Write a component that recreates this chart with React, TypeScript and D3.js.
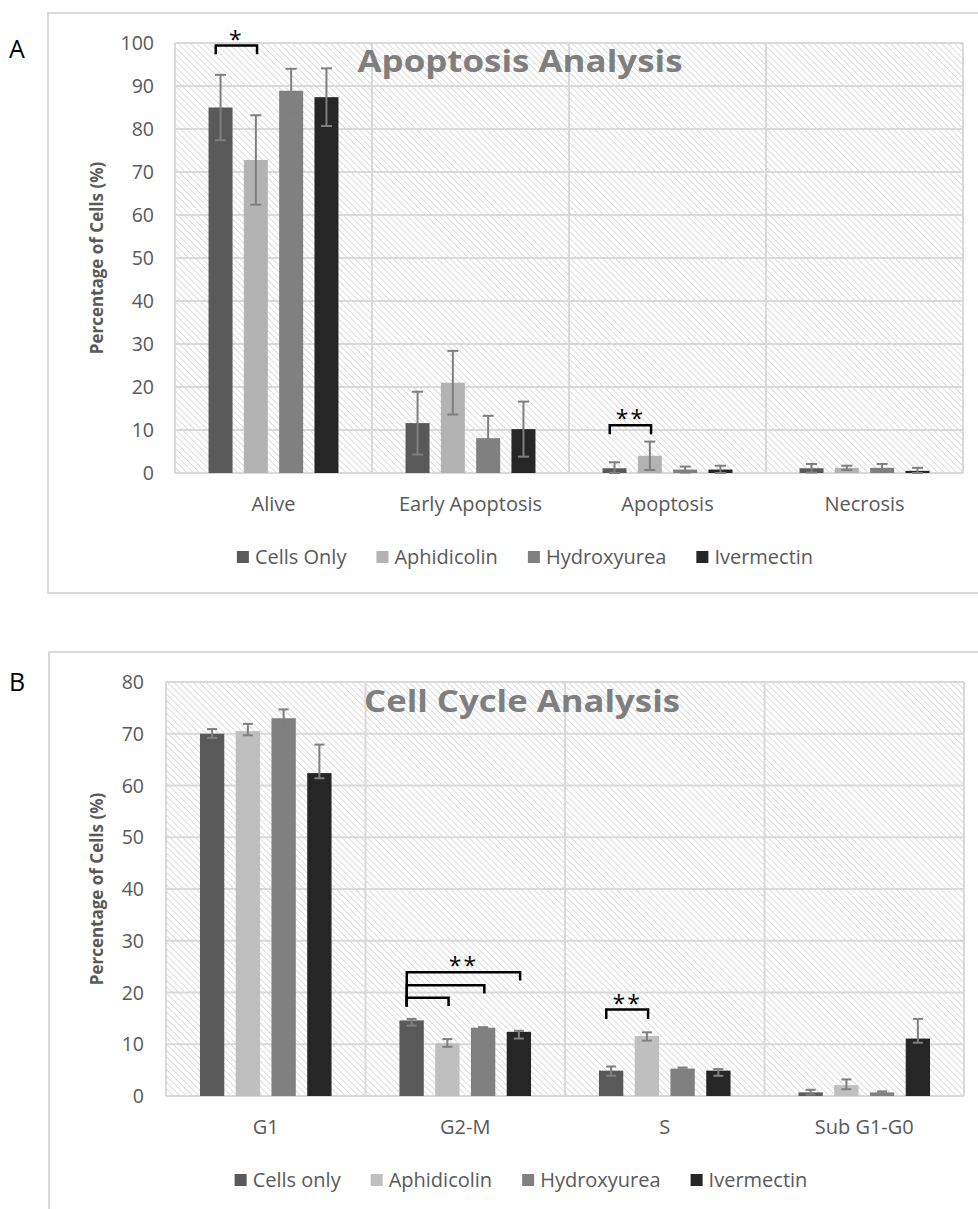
import * as d3 from 'd3';
import { useEffect, useRef } from 'react';

// Panel A - apoptosis
const apoptosisCategories = ['Alive', 'Early Apoptosis', 'Apoptosis', 'Necrosis'];
const apoptosisSeries = ['Cells Only', 'Aphidicolin', 'Hydroxyurea', 'Ivermectin'];
const apoCellsOnly = [85.0, 11.6, 1.1, 1.1];
const apoAphidicolin = [72.8, 21.0, 4.0, 1.2];
const apoHydroxyurea = [88.9, 8.1, 0.8, 1.2];
const apoIvermectin = [87.4, 10.2, 0.8, 0.5];
const apoCellsOnlyErr = [7.6, 7.3, 1.4, 1.0];
const apoAphidicolinErr = [10.4, 7.4, 3.3, 0.5];
const apoHydroxyureaErr = [5.1, 5.2, 0.7, 0.9];
const apoIvermectinErr = [6.7, 6.4, 0.9, 0.7];
const apoYTicks = [0, 10, 20, 30, 40, 50, 60, 70, 80, 90, 100];

// Panel B - cell cycle
const cycleCategories = ['G1', 'G2-M', 'S', 'Sub G1-G0'];
const cycleSeries = ['Cells only', 'Aphidicolin', 'Hydroxyurea', 'Ivermectin'];
const cycCellsOnly = [70.0, 14.6, 4.9, 0.7];
const cycAphidicolin = [70.5, 10.2, 11.6, 2.1];
const cycHydroxyurea = [73.0, 13.2, 5.3, 0.7];
const cycIvermectin = [62.4, 12.4, 4.9, 11.1];
const cycCellsOnlyPlus = [0.9, 0.3, 0.8, 0.5];
const cycCellsOnlyMinus = [0.8, 1.0, 1.0, 0.4];
const cycAphidicolinPlus = [1.4, 0.8, 0.7, 1.1];
const cycAphidicolinMinus = [0.8, 0.7, 0.9, 0.8];
const cycHydroxyureaPlus = [1.7, 0.1, 0.2, 0.2];
const cycHydroxyureaMinus = [1.7, 0.1, 0.2, 0.2];
const cycIvermectinPlus = [5.5, 0.2, 0.3, 3.8];
const cycIvermectinMinus = [1.0, 1.3, 1.0, 0.8];
const cycYTicks = [0, 10, 20, 30, 40, 50, 60, 70, 80];

// significance brackets: series index from/to, heights in data units
const apoBrackets = [
  { category: 'Alive', from: 0, to: 1, top: 99.4, leftEnd: 97.4, rightEnd: 97.4, label: '*' },
  { category: 'Apoptosis', from: 0, to: 1, top: 11.1, leftEnd: 9.0, rightEnd: 9.0, label: '**' },
];
const cycBrackets = [
  { category: 'G2-M', from: 0, to: 3, top: 23.9, leftEnd: 17.3, rightEnd: 22.3, label: '**' },
  { category: 'G2-M', from: 0, to: 2, top: 21.4, leftEnd: 17.3, rightEnd: 19.8, label: '' },
  { category: 'G2-M', from: 0, to: 1, top: 19.0, leftEnd: 17.3, rightEnd: 17.4, label: '' },
  { category: 'S', from: 0, to: 1, top: 16.7, leftEnd: 14.9, rightEnd: 14.9, label: '**' },
];

const apoColors = ['#595959', '#b3b3b3', '#808080', '#262626'];
const cycColors = ['#595959', '#bfbfbf', '#808080', '#262626'];

const FONT = '"Open Sans", "DejaVu Sans", sans-serif';
const GRID = '#d9d9d9';

function drawPanel(root: any, p: any) {
  const g = root.append('g');

  g.append('rect')
    .attr('x', p.frame.x).attr('y', p.frame.y)
    .attr('width', p.frame.w).attr('height', p.frame.h)
    .attr('fill', 'white').attr('stroke', GRID).attr('stroke-width', 2);

  g.append('text')
    .attr('x', 9).attr('y', p.letterY)
    .attr('font-family', FONT).attr('font-size', 25).attr('fill', '#000')
    .text(p.letter);

  const x0 = d3.scaleBand().domain(p.categories).range([p.plot.left, p.plot.right]);
  const x1 = d3.scaleBand().domain(d3.range(p.series.length) as any)
    .range([0, x0.bandwidth()]).paddingInner(0.32).paddingOuter(0.95);
  const y = d3.scaleLinear().domain([0, p.yMax]).range([p.plot.bottom, p.plot.top]);

  // plot background with hatch
  g.append('rect')
    .attr('x', p.plot.left).attr('y', p.plot.top)
    .attr('width', p.plot.right - p.plot.left).attr('height', p.plot.bottom - p.plot.top)
    .attr('fill', 'url(#hatch)');

  // gridlines
  g.append('g').selectAll('line').data(p.yTicks).enter().append('line')
    .attr('x1', p.plot.left).attr('x2', p.plot.right)
    .attr('y1', (d: number) => y(d)).attr('y2', (d: number) => y(d))
    .attr('stroke', GRID).attr('stroke-width', 2);
  const bounds = p.categories.map((c: string) => x0(c)).concat([p.plot.right]);
  g.append('g').selectAll('line').data(bounds).enter().append('line')
    .attr('x1', (d: number) => d).attr('x2', (d: number) => d)
    .attr('y1', p.plot.top).attr('y2', p.plot.bottom)
    .attr('stroke', GRID).attr('stroke-width', 2);

  // title
  g.append('text')
    .attr('x', p.titleX).attr('y', p.titleY)
    .attr('text-anchor', 'middle')
    .attr('font-family', FONT).attr('font-weight', 700).attr('font-size', 31)
    .attr('fill', '#7f7f7f')
    .attr('textLength', p.titleW).attr('lengthAdjust', 'spacingAndGlyphs')
    .text(p.title);

  // bars
  p.series.forEach((s: any, i: number) => {
    const sg = g.append('g');
    sg.selectAll('rect').data(s.values).enter().append('rect')
      .attr('x', (_d: number, j: number) => (x0(p.categories[j]) as number) + (x1(i as any) as number))
      .attr('y', (d: number) => y(d))
      .attr('width', x1.bandwidth())
      .attr('height', (d: number) => y(0) - y(d))
      .attr('fill', s.color);
  });

  // error bars
  const cap = p.capW / 2;
  p.series.forEach((s: any, i: number) => {
    const eg = g.append('g').attr('stroke', '#7f7f7f').attr('stroke-width', 2);
    s.values.forEach((v: number, j: number) => {
      const cx = (x0(p.categories[j]) as number) + (x1(i as any) as number) + x1.bandwidth() / 2;
      const hi = y(v + s.plus[j]);
      const lo = y(Math.max(0, v - s.minus[j]));
      eg.append('line').attr('x1', cx).attr('x2', cx).attr('y1', hi).attr('y2', lo);
      eg.append('line').attr('x1', cx - cap).attr('x2', cx + cap).attr('y1', hi).attr('y2', hi);
      eg.append('line').attr('x1', cx - cap).attr('x2', cx + cap).attr('y1', lo).attr('y2', lo);
    });
  });

  // significance brackets
  p.brackets.forEach((b: any) => {
    const base = x0(b.category) as number;
    const xl = base + (x1(b.from as any) as number) + x1.bandwidth() * 0.3;
    const xr = base + (x1(b.to as any) as number) + x1.bandwidth() * 0.55;
    g.append('path')
      .attr('d', `M${xl},${y(b.leftEnd)}V${y(b.top)}H${xr}V${y(b.rightEnd)}`)
      .attr('fill', 'none').attr('stroke', '#000').attr('stroke-width', 2.5);
    if (b.label) {
      g.append('text')
        .attr('x', (xl + xr) / 2).attr('y', y(b.top) + 2)
        .attr('text-anchor', 'middle')
        .attr('font-family', FONT).attr('font-size', 23).attr('fill', '#000')
        .attr('letter-spacing', 2)
        .text(b.label);
    }
  });

  // y tick labels
  g.append('g').selectAll('text').data(p.yTicks).enter().append('text')
    .attr('x', p.tickX).attr('y', (d: number) => y(d)).attr('dy', '0.36em')
    .attr('text-anchor', 'end')
    .attr('font-family', FONT).attr('font-size', 19.5).attr('fill', '#595959')
    .text((d: number) => d);

  // y axis title
  const cy = (p.plot.top + p.plot.bottom) / 2;
  g.append('text')
    .attr('transform', `translate(${p.yTitleX},${cy}) rotate(-90)`)
    .attr('dy', '0.36em')
    .attr('text-anchor', 'middle')
    .attr('font-family', FONT).attr('font-weight', 700).attr('font-size', 17)
    .attr('fill', '#595959')
    .text('Percentage of Cells (%)');

  // category labels
  g.append('g').selectAll('text').data(p.categories).enter().append('text')
    .attr('x', (d: string) => (x0(d) as number) + x0.bandwidth() / 2)
    .attr('y', p.plot.bottom + 38)
    .attr('text-anchor', 'middle')
    .attr('font-family', FONT).attr('font-size', 20).attr('fill', '#595959')
    .text((d: string) => d);

  // legend, centred on the frame
  const lg = g.append('g');
  const items = p.series.map((s: any) => {
    const it = lg.append('g');
    it.append('rect').attr('width', 12).attr('height', 12).attr('y', p.legendY - 6).attr('fill', s.color);
    const t = it.append('text')
      .attr('x', 18).attr('y', p.legendY).attr('dy', '0.36em')
      .attr('font-family', FONT).attr('font-size', 20).attr('fill', '#595959')
      .text(s.name);
    const w = (t.node() as SVGTextElement).getComputedTextLength();
    return { it, w: 18 + w };
  });
  const gap = 30;
  const total = d3.sum(items, (d: any) => d.w) + gap * (items.length - 1);
  let cx = p.legendCX - total / 2;
  items.forEach((d: any) => {
    d.it.attr('transform', `translate(${cx},0)`);
    cx += d.w + gap;
  });
}

function Figure() {
  const ref = useRef<SVGSVGElement>(null);

  useEffect(() => {
    const svg = d3.select(ref.current);
    svg.selectAll('*').remove();

    const pat = svg.append('defs').append('pattern')
      .attr('id', 'hatch').attr('patternUnits', 'userSpaceOnUse')
      .attr('width', 4.5).attr('height', 4.5)
      .attr('patternTransform', 'rotate(-45)');
    pat.append('rect').attr('width', 4.5).attr('height', 4.5).attr('fill', '#fff');
    pat.append('line').attr('x1', 0).attr('x2', 0).attr('y1', 0).attr('y2', 4.5)
      .attr('stroke', '#cbcbcb').attr('stroke-width', 1.3);

    drawPanel(svg, {
      letter: 'A', letterY: 58,
      frame: { x: 48, y: 13, w: 960, h: 580 },
      plot: { left: 175, top: 43, right: 963, bottom: 473 },
      yMax: 100, yTicks: apoYTicks,
      title: 'Apoptosis Analysis', titleX: 520, titleY: 72, titleW: 325,
      tickX: 154, yTitleX: 97, legendY: 557, legendCX: 525,
      categories: apoptosisCategories,
      series: [
        { name: apoptosisSeries[0], values: apoCellsOnly, plus: apoCellsOnlyErr, minus: apoCellsOnlyErr, color: apoColors[0] },
        { name: apoptosisSeries[1], values: apoAphidicolin, plus: apoAphidicolinErr, minus: apoAphidicolinErr, color: apoColors[1] },
        { name: apoptosisSeries[2], values: apoHydroxyurea, plus: apoHydroxyureaErr, minus: apoHydroxyureaErr, color: apoColors[2] },
        { name: apoptosisSeries[3], values: apoIvermectin, plus: apoIvermectinErr, minus: apoIvermectinErr, color: apoColors[3] },
      ],
      capW: 11,
      brackets: apoBrackets,
    });

    drawPanel(svg, {
      letter: 'B', letterY: 691,
      frame: { x: 49, y: 652, w: 960, h: 600 },
      plot: { left: 166, top: 682, right: 964, bottom: 1096 },
      yMax: 80, yTicks: cycYTicks,
      title: 'Cell Cycle Analysis', titleX: 522, titleY: 712, titleW: 316,
      tickX: 144, yTitleX: 97, legendY: 1180, legendCX: 521,
      categories: cycleCategories,
      series: [
        { name: cycleSeries[0], values: cycCellsOnly, plus: cycCellsOnlyPlus, minus: cycCellsOnlyMinus, color: cycColors[0] },
        { name: cycleSeries[1], values: cycAphidicolin, plus: cycAphidicolinPlus, minus: cycAphidicolinMinus, color: cycColors[1] },
        { name: cycleSeries[2], values: cycHydroxyurea, plus: cycHydroxyureaPlus, minus: cycHydroxyureaMinus, color: cycColors[2] },
        { name: cycleSeries[3], values: cycIvermectin, plus: cycIvermectinPlus, minus: cycIvermectinMinus, color: cycColors[3] },
      ],
      capW: 10,
      brackets: cycBrackets,
    });
  }, []);

  return (
    <svg ref={ref} width={978} height={1209}
      style={{ position: 'absolute', left: 0, top: 0, display: 'block', background: '#fff' }} />
  );
}

export default function App() {
  return <Figure />;
}
